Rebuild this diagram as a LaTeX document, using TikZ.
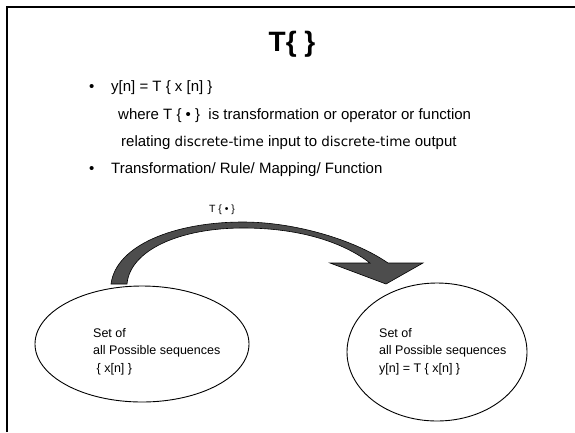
\documentclass[tikz,border=0pt]{standalone}
\usepackage{fontspec}
\setmainfont{Liberation Sans}
\newfontfamily\widefont{DejaVu Sans}
\usetikzlibrary{shapes.geometric,positioning}
\definecolor{arrowgray}{RGB}{77,77,77}

\begin{document}
\begin{tikzpicture}[x=1pt,y=-1pt,
  bodytext/.style={font=\fontsize{15}{18}\selectfont,anchor=base west,inner sep=0pt},
  settext/.style={font=\fontsize{12.5}{17.5}\selectfont,align=left,anchor=north west,inner sep=0pt},
  setellipse/.style={draw,ellipse,line width=0.9pt,inner sep=0pt}]
	\useasboundingbox (0,0) rectangle (575,432);
	\draw[line width=2pt] (7,432) -- (7,7) -- (575,7);
	\node[font=\fontsize{28}{30}\selectfont\bfseries] (title) at (292,44) {T\{ \}};
	% bullets
	\node[bodytext] (dot1) at (89,91) {\textbullet};
	\node[bodytext] (line1) at (111,91) {y[n] = T \{ x [n] \}};
	\node[bodytext] (line2) at (118,119) {where T \{ \textbullet\ \}\ \ is transformation or operator or function};
	\node[bodytext] (line3) at (121,146) {relating {\widefont\fontsize{13.5}{18}\selectfont discrete-time} input to {\widefont\fontsize{13.5}{18}\selectfont discrete-time} output};
	\node[bodytext] (dot2) at (89,173) {\textbullet};
	\node[bodytext] (line4) at (111,173) {Transformation/ Rule/ Mapping/ Function};
	% the two sets
	\node[setellipse,minimum width=214pt,minimum height=116pt] (inset) at (142,344) {};
	\node[setellipse,minimum width=180pt,minimum height=138pt] (outset) at (437,352) {};
	\node[settext] (intext) at (93,328) {Set of\\all Possible sequences\\\ \{ x[n] \}};
	\node[settext] (outtext) at (379,328) {Set of\\all Possible sequences\\y[n] = T \{ x[n] \}};
	% curved arrow
	\filldraw[fill=arrowgray,draw=black,line width=0.6pt]
		(111,284) .. controls (116,245) and (175,222) .. (243,222)
		.. controls (295,222) and (355,240) .. (388,263)
		-- (423,263) -- (386,284) -- (330,263) -- (370,263)
		.. controls (340,240) and (295,228) .. (243,228)
		.. controls (180,228) and (130,250) .. (127,284) -- cycle;
	\node[font=\fontsize{10.5}{12}\selectfont] (tlabel) at (222,210) {T \{ \textbullet\ \}};
\end{tikzpicture}
\end{document}
